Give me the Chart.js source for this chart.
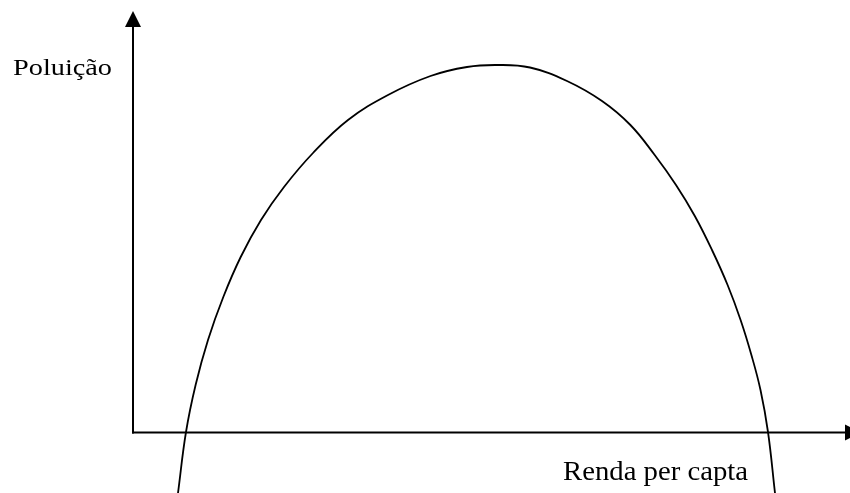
<!DOCTYPE html>
<html>
<head>
<meta charset="utf-8">
<script src="https://cdn.jsdelivr.net/npm/chart.js@4/dist/chart.umd.min.js"></script>
<style>
  html, body { margin: 0; padding: 0; background: #ffffff; }
  #wrap { width: 850px; height: 493px; }
</style>
</head>
<body>
<div id="wrap"><canvas id="c" width="850" height="493"></canvas></div>
<script>
// ---- Data ----
const xAxisLabel = "Renda per capta";
const yAxisLabel = "Poluição";
const renda    = [45, 53, 62.6, 75, 90.3, 107.7, 128, 151, 180, 215, 255, 297.5, 334, 364, 397, 434, 469, 497.4, 521.7, 543, 561.8, 579, 594.6, 607.6, 618.4, 627.5, 635, 642];
const poluicao = [-61, 0, 47, 92, 135, 175, 212, 245, 279, 312, 337, 356, 365, 367, 364.5, 351, 331, 307, 277, 247, 216, 182, 147, 112, 77, 42, 0, -61];
const xRange = [-133, 717];
const yRange = [-61, 432];

const points = renda.map((x, i) => ({ x: x, y: poluicao[i] }));

const axesPlugin = {
  id: 'axesArrows',
  afterDatasetsDraw(chart) {
    const ctx = chart.ctx;
    const xs = chart.scales.x, ys = chart.scales.y;
    const ox = xs.getPixelForValue(0);
    const oy = ys.getPixelForValue(0) + 0.5;
    const topY = ys.getPixelForValue(yRange[1]);
    const rightX = xs.getPixelForValue(xRange[1]);
    ctx.save();
    ctx.strokeStyle = '#000';
    ctx.fillStyle = '#000';
    ctx.lineWidth = 2;
    // y axis
    ctx.beginPath();
    ctx.moveTo(ox, oy + 1);
    ctx.lineTo(ox, topY + 20);
    ctx.stroke();
    ctx.beginPath();
    ctx.moveTo(ox, topY + 11);
    ctx.lineTo(ox - 8, topY + 27);
    ctx.lineTo(ox + 8, topY + 27);
    ctx.closePath();
    ctx.fill();
    // x axis
    ctx.beginPath();
    ctx.moveTo(ox - 1, oy);
    ctx.lineTo(rightX - 4, oy);
    ctx.stroke();
    ctx.beginPath();
    ctx.moveTo(rightX + 11, oy);
    ctx.lineTo(rightX - 5, oy - 8);
    ctx.lineTo(rightX - 5, oy + 8);
    ctx.closePath();
    ctx.fill();

    // labels
    function drawLabel(text, left, baseline, size, width) {
      ctx.save();
      ctx.font = size + 'px "Liberation Serif", "Times New Roman", serif';
      ctx.textBaseline = 'alphabetic';
      ctx.textAlign = 'left';
      const w = ctx.measureText(text).width;
      const s = width / w;
      ctx.translate(left, baseline);
      ctx.scale(s, 1);
      ctx.fillText(text, 0, 0);
      ctx.restore();
    }
    drawLabel(yAxisLabel, 13, 75, 23, 99);
    drawLabel(xAxisLabel, 563, 480, 27, 185);
    ctx.restore();
  }
};

new Chart(document.getElementById('c'), {
  type: 'line',
  data: {
    datasets: [{
      data: points,
      borderColor: '#000',
      borderWidth: 1.8,
      pointRadius: 0,
      fill: false,
      tension: 0.4
    }]
  },
  options: {
    responsive: false,
    devicePixelRatio: 1,
    animation: false,
    layout: { padding: 0 },
    plugins: { legend: { display: false }, tooltip: { enabled: false }, title: { display: false } },
    scales: {
      x: { type: 'linear', min: xRange[0], max: xRange[1], display: false },
      y: { type: 'linear', min: yRange[0], max: yRange[1], display: false }
    }
  },
  plugins: [axesPlugin]
});
</script>
</body>
</html>
